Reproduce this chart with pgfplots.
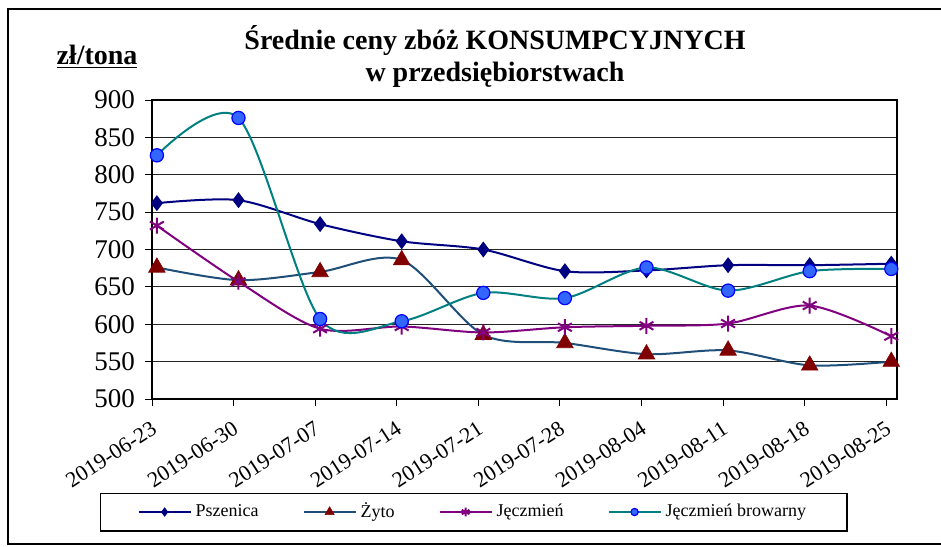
\documentclass[border=0pt]{standalone}
\usepackage{fontspec}
\setmainfont{Liberation Serif}
\usepackage{pgfplots}
\pgfplotsset{compat=1.18}
\usepackage{pgfplotstable}

\definecolor{cPsz}{HTML}{000080}
\definecolor{cZytoL}{HTML}{1F4E79}
\definecolor{cZytoM}{HTML}{800000}
\definecolor{cJecz}{HTML}{800080}
\definecolor{cBrowL}{HTML}{008080}
\definecolor{cBrowM}{HTML}{3366FF}

\pgfplotstableread{
x psz zyto jecz brow
0.06 762 676 732 826
1.06 766 659 657 876
2.06 734 670 594 607
3.06 711 686 597 604
4.06 700 586 589 642
5.06 671 575 596 635
6.06 672 560 598 676
7.06 679 565 601 645
8.06 679 545 625 671
9.06 681 550 584 674
}\data

\begin{document}
\begin{tikzpicture}
\useasboundingbox (0pt,0pt) rectangle (470.5pt,-273pt);
\clip (0pt,0pt) rectangle (470.5pt,-273pt);
\draw[line width=1pt] (4pt,-4.5pt) rectangle (480pt,-272pt);
\node[font=\fontsize{14}{16}\selectfont\bfseries, align=center] at (247.5pt,-28pt) {Średnie ceny zbóż KONSUMPCYJNYCH\\w przedsiębiorstwach};
\node[font=\fontsize{14}{16}\selectfont\bfseries] at (48.5pt,-28.5pt) {\underline{zł/tona}};
\begin{axis}[
  at={(76pt,-199.5pt)}, anchor=south west,
  scale only axis, width=372.5pt, height=149.5pt,
  xmin=0, xmax=9.13, ymin=500, ymax=900,
  ytick={500,550,...,900},
  xtick={0,...,9},
  xticklabels={2019-06-23,2019-06-30,2019-07-07,2019-07-14,2019-07-21,2019-07-28,2019-08-04,2019-08-11,2019-08-18,2019-08-25},
  ymajorgrids,
  grid style={black!85, line width=0.5pt},
  axis line style={black, line width=0.6pt},
  tick style={black, line width=0.5pt},
  tick align=outside, major tick length=3.5pt,
  xtick pos=bottom, ytick pos=left,
  /pgf/number format/assume math mode=true,
  yticklabel style={font=\fontsize{13.5}{14}\selectfont, xshift=-1.5pt},
  xticklabel style={font=\fontsize{11}{12}\selectfont, xshift=4pt, yshift=-8.5pt, rotate=33, anchor=east},
  clip=false,
  legend columns=4,
  legend cell align=left,
  legend style={at={(axis description cs:0.432,-0.378)}, anchor=center, draw=black, line width=0.6pt,
    font=\fontsize{9}{11}\selectfont, inner ysep=3pt, inner xsep=18.5pt,
    /tikz/every even column/.append style={column sep=20pt}},
  legend image code/.code={\draw[mark repeat=2,mark phase=2,/tikz/every mark/.append style={scale=0.55}] plot coordinates {(0pt,0pt) (13pt,0pt) (26pt,0pt)};},
]
\addplot[color=cPsz, line width=1pt, smooth, mark=diamond*, mark size=3.6pt, mark options={fill=cPsz, draw=cPsz, line width=0.5pt}] table[x=x,y=psz]{\data};
\addlegendentry{Pszenica}
\addplot[color=cZytoL, line width=1pt, smooth, mark=triangle*, mark size=4.8pt, mark options={fill=cZytoM, draw=cZytoM, line width=0.3pt}] table[x=x,y=zyto]{\data};
\addlegendentry{Żyto}
\addplot[color=cJecz, line width=1pt, smooth, mark=asterisk, mark size=4pt, mark options={draw=cJecz, line width=1pt}] table[x=x,y=jecz]{\data};
\addlegendentry{Jęczmień}
\addplot[color=cBrowL, line width=1pt, smooth, mark=*, mark size=3.3pt, mark options={fill=cBrowM, draw=blue, line width=0.6pt}] table[x=x,y=brow]{\data};
\addlegendentry{Jęczmień browarny}
\end{axis}
\end{tikzpicture}
\end{document}
